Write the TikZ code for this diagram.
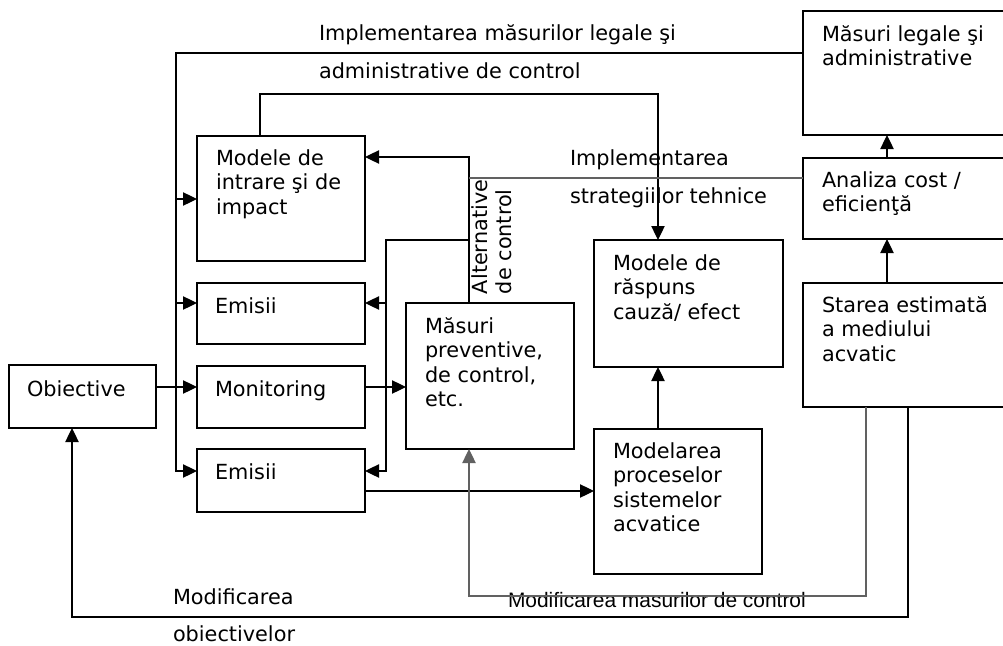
\documentclass[tikz,border=0pt]{standalone}
\usepackage{fontspec}
\setmainfont{DejaVu Sans}
\newfontfamily\narrowfont{Liberation Sans}
\usetikzlibrary{arrows.meta}

% stacked lines, the node's base is the baseline of the first line
\newcommand\stk[1]{\parbox[t]{7cm}{\raggedright #1}}
% box from its top-left (x1,y1) to its bottom-right (x2,y2), in pixels
\newcommand\mkbox[5]{\node[box, minimum width={(#4-#2)*0.75pt}, minimum height={(#5-#3)*0.75pt}] (#1) at (#2,#3) {};}

\definecolor{lgray}{gray}{0.38}

\tikzset{
  box/.style={draw, line width=1.3pt, rectangle, anchor=north west, inner sep=0pt, outer sep=0pt},
  txt/.style={anchor=base west, inner sep=0pt, outer sep=0pt, font=\fontsize{15.6}{18.4}\selectfont},
  small/.style={anchor=base west, inner sep=0pt, outer sep=0pt, font=\narrowfont\fontsize{15.7}{17}\selectfont},
  conn/.style={line width=0.9pt},
  gconn/.style={conn, draw=lgray},
  arr/.style={conn, -{Triangle[length=10.5pt,width=10pt]}},
}

\begin{document}
\begin{tikzpicture}[x=0.75pt, y=-0.75pt]
\useasboundingbox (0,0) rectangle (1003,646);
\clip (0,0) rectangle (1003,646);

% boxes
\mkbox{obj}{9}{365}{156}{428}
\mkbox{mi}{197}{136}{365}{261}
\mkbox{emA}{197}{283}{365}{344}
\mkbox{mon}{197}{366}{365}{428}
\mkbox{emB}{197}{449}{365}{512}
\mkbox{mp}{406}{303}{574}{449}
\mkbox{mr}{594}{240}{783}{367}
\mkbox{mpr}{594}{429}{762}{574}
\mkbox{ml}{803}{11}{1012}{135}
\mkbox{ac}{803}{158}{1012}{239}
\mkbox{st}{803}{283}{1012}{407}

% box texts
\node[txt] (tobj) at (27,396) {Obiective};
\node[txt] (tmi) at (216,165) {\stk{Modele de\\intrare şi de\\impact}};
\node[txt] (temA) at (215,313) {Emisii};
\node[txt] (tmon) at (215,396) {Monitoring};
\node[txt] (temB) at (215,479) {Emisii};
\node[txt] (tmp) at (425,333) {\stk{Măsuri\\preventive,\\de control,\\etc.}};
\node[txt] (tmr) at (613,270) {\stk{Modele de\\răspuns\\cauză/ efect}};
\node[txt] (tmpr) at (613,458) {\stk{Modelarea\\proceselor\\sistemelor\\acvatice}};
\node[txt] (tml) at (822,41) {\stk{Măsuri legale şi\\administrative}};
\node[txt] (tac) at (822,187) {\stk{Analiza cost /\\eficienţă}};
\node[txt] (tst) at (822,312) {\stk{Starea estimată\\a mediului\\acvatic}};

% connector labels
\node[txt] (llegA) at (319,40) {Implementarea măsurilor legale şi};
\node[txt] (llegB) at (319,78) {administrative de control};
\node[txt] (ltehA) at (570,165) {Implementarea};
\node[txt] (ltehB) at (570,203) {strategiilor tehnice};
\node[txt, rotate=90] (lalt) at (487,294) {\stk{Alternative\\de control}};
\node[small] (lmod) at (508,607) {Modificarea masurilor de control};
\node[txt] (lobA) at (173,604) {Modificarea};
\node[txt] (lobB) at (173,641) {obiectivelor};

% legal and administrative measures fed back to the inputs
\draw[arr] (ml.west |- 0,53) -- (176,53) |- (emB.west |- 0,471);
\draw[arr] (176,199) -- (mi.west |- 0,199);
\draw[arr] (176,303) -- (emA.west |- 0,303);

% input models to cause/effect models
\draw[arr] (mi.north -| 260,0) |- (658,94) -- (mr.north -| 658,0);

% control alternatives and technical strategies
\draw[arr] (mp.north -| 469,0) |- (mi.east |- 0,157);
\draw[gconn] (ac.west |- 0,178) -- (469,178);
\draw[arr] (469,240) -| (386,471) -- (emB.east |- 0,471);
\draw[arr] (386,303) -- (emA.east |- 0,303);

% main flow
\draw[arr] (obj.east |- 0,387) -- (mon.west |- 0,387);
\draw[arr] (mon.east |- 0,387) -- (mp.west |- 0,387);
\draw[arr] (emB.east |- 0,491) -- (mpr.west |- 0,491);
\draw[arr] (mpr.north -| 658,0) -- (mr.south -| 658,0);
\draw[arr] (ac.north -| 887,0) -- (ml.south -| 887,0);
\draw[arr] (st.north -| 887,0) -- (ac.south -| 887,0);

% feedback loops from the estimated state
\draw[arr, draw=lgray] (st.south -| 866,0) |- (469,596) -- (mp.south -| 469,0);
\draw[arr] (st.south -| 908,0) |- (72,617) -- (obj.south -| 72,0);
\end{tikzpicture}
\end{document}
